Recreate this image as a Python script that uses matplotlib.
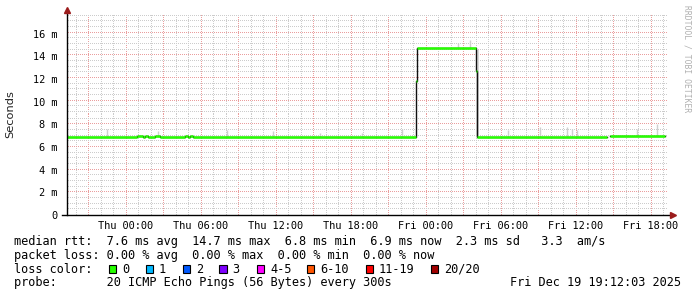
import numpy as np
import matplotlib
matplotlib.use('Agg')
import matplotlib.pyplot as plt
from matplotlib.patches import Rectangle

# time axis in hours relative to Thu 00:00
x_start, x_end = -4.7, 43.3
y_top = 17.65

tick_hours = [0, 6, 12, 18, 24, 30, 36, 42]
tick_labels = ['Thu 00:00', 'Thu 06:00', 'Thu 12:00', 'Thu 18:00',
               'Fri 00:00', 'Fri 06:00', 'Fri 12:00', 'Fri 18:00']
y_ticks = [0, 2, 4, 6, 8, 10, 12, 14, 16]
y_labels = ['0', '2 m', '4 m', '6 m', '8 m', '10 m', '12 m', '14 m', '16 m']

# median rtt (ms), step segments
med_start = [-4.7, 0.88, 1.4, 1.55, 1.8, 2.35, 2.75, 4.75, 5.0, 5.15, 5.4, 23.2, 23.3, 28.0, 28.1, 38.7]
med_end = [0.88, 1.4, 1.55, 1.8, 2.35, 2.75, 4.75, 5.0, 5.15, 5.4, 23.2, 23.3, 28.0, 28.1, 38.5, 43.1]
med_ms = [6.85, 6.97, 6.85, 6.97, 6.85, 6.97, 6.85, 6.97, 6.85, 6.97, 6.85, 11.8, 14.7, 12.7, 6.85, 6.97]

# smoke spikes (grey)
smoke_h = [-1.52, 2.56, 8.08, 11.78, 15.54, 18.88, 22.08, 26.58, 27.56,
           30.58, 33.14, 35.28, 35.68, 36.08, 40.88, 42.48]
smoke_lo = [6.85, 6.85, 6.85, 6.85, 6.85, 6.85, 6.85, 14.7, 14.7,
            6.85, 6.85, 6.85, 6.85, 6.85, 6.97, 6.97]
smoke_hi = [7.6, 7.4, 7.5, 7.4, 7.2, 7.2, 7.6, 15.2, 15.4,
            7.5, 7.8, 7.8, 7.6, 7.5, 7.6, 8.05]
band_h = [28.0, 28.25]
band_lo = 6.9
band_hi = 14.6

stats_rtt = "median rtt:  7.6 ms avg  14.7 ms max  6.8 ms min  6.9 ms now  2.3 ms sd   3.3  am/s"
stats_loss = "packet loss: 0.00 % avg  0.00 % max  0.00 % min  0.00 % now"
probe_text = "probe:       20 ICMP Echo Pings (56 Bytes) every 300s"
stamp_text = "Fri Dec 19 19:12:03 2025"
loss_labels = ['0', '1', '2', '3', '4-5', '6-10', '11-19', '20/20']
loss_colors = ['#26ff00', '#00b8ff', '#0059ff', '#7e00ff', '#ff00ff', '#ff5500', '#ff0000', '#a10000']
loss_box_px = [108.7, 145.7, 182.7, 219.3, 256.7, 306.7, 365.7, 431.0]

W, H = 697, 297
AX_L, AX_B, AX_W, AX_H = 67, 82, 600, 200
mono = 'DejaVu Sans Mono'

fig = plt.figure(figsize=(W / 100, H / 100), dpi=100)
fig.patch.set_facecolor('white')
ax = fig.add_axes([AX_L / W, AX_B / H, AX_W / W, AX_H / H])
ax.set_xlim(x_start, x_end)
ax.set_ylim(0, y_top)
for s in ax.spines.values():
    s.set_visible(False)

# dotted grid as a pixel image so the dots stay crisp
grey_rgba = (0.80, 0.80, 0.80, 1.0)
red_rgba = (0.92, 0.62, 0.62, 1.0)
grid = np.zeros((AX_H, AX_W, 4))
px_per_h = AX_W / (x_end - x_start)
px_per_ms = AX_H / y_top
minor_h = [h for h in range(-4, 44) if h % 3 != 0]
major_h = [h for h in range(-3, 44) if h % 3 == 0]
minor_ms = [i * 0.5 for i in range(1, 36) if i % 4 != 0]
major_ms = y_ticks[1:]
for vals, rgba in ((minor_h, grey_rgba), (major_h, red_rgba)):
    for h in vals:
        c = int(round((h - x_start) * px_per_h))
        if 0 <= c < AX_W:
            grid[0::2, c] = rgba
for vals, rgba in ((minor_ms, grey_rgba), (major_ms, red_rgba)):
    for v in vals:
        r = int(round(v * px_per_ms))
        if 0 <= r < AX_H:
            grid[r, 1::2] = rgba
ax.imshow(grid, extent=(x_start, x_end, 0, y_top), origin='lower',
          interpolation='nearest', aspect='auto', zorder=1)
ax.set_xlim(x_start, x_end)
ax.set_ylim(0, y_top)

# smoke
ax.vlines(smoke_h, smoke_lo, smoke_hi, colors='#cfcfcf', linewidth=1.0, zorder=2)
ax.fill_between(band_h, band_lo, band_hi, color='#d8d8d8', linewidth=0, zorder=2)

# median: black step underneath, green horizontal segments on top
step_x, step_y = [], []
for s, e, v in zip(med_start, med_end, med_ms):
    if step_x and s > step_x[-1] + 0.01:
        step_x.append(step_x[-1]); step_y.append(float('nan'))
    step_x += [s, e]
    step_y += [v, v]
ax.plot(step_x, step_y, color='#111111', linewidth=1.0, zorder=3)
ax.hlines(med_ms, med_start, med_end, colors=loss_colors[0], linewidth=1.8, zorder=4)

# axes lines and arrows
arrow_c = '#9b1c1c'
ax.plot([-5 / 600, 1.006], [0, 0], color='black', linewidth=1, transform=ax.transAxes, clip_on=False, zorder=5)
ax.plot([0, 0], [0, 1.01], color='black', linewidth=1, transform=ax.transAxes, clip_on=False, zorder=5)
ax.plot([1.01], [0], marker='>', color=arrow_c, markersize=4.5, transform=ax.transAxes, clip_on=False, zorder=6)
ax.plot([0], [1.023], marker='^', color=arrow_c, markersize=4.5, transform=ax.transAxes, clip_on=False, zorder=6)

ax.set_xticks(tick_hours)
ax.set_xticklabels(tick_labels, fontfamily=mono, fontsize=7.4)
ax.set_yticks(y_ticks)
ax.set_yticklabels(y_labels, fontfamily=mono, fontsize=7.4)
ax.tick_params(axis='x', length=0, pad=4)
ax.tick_params(axis='y', length=0, pad=7)

fig.text(10 / W, 1 - 114 / H, 'Seconds', rotation=90, ha='center', va='center',
         fontsize=8.2, family='DejaVu Sans', color='#222222')
fig.text(687 / W, 1 - 5 / H, 'RRDTOOL / TOBI OETIKER', rotation=270, ha='center', va='top',
         fontsize=5.8, family=mono, color='#b0b0b0')

# legend area
fs = 8.6
def fx(px):
    return px / W

def fy(py):
    return 1 - py / H

fig.text(fx(14.2), fy(245.3), stats_rtt, family=mono, fontsize=fs, va='baseline')
fig.text(fx(14.2), fy(258.7), stats_loss, family=mono, fontsize=fs, va='baseline')
fig.text(fx(14.2), fy(272.7), 'loss color:', family=mono, fontsize=fs, va='baseline')
for px, lab, col in zip(loss_box_px, loss_labels, loss_colors):
    fig.patches.append(Rectangle((fx(px), fy(272.7)), 7.3 / W, 8 / H, transform=fig.transFigure,
                                 facecolor=col, edgecolor='black', linewidth=0.8))
    fig.text(fx(px + 13.3), fy(272.7), lab, family=mono, fontsize=fs, va='baseline')
fig.text(fx(14.2), fy(286.3), probe_text, family=mono, fontsize=fs, va='baseline')
fig.text(fx(681), fy(286.3), stamp_text, family=mono, fontsize=fs, va='baseline', ha='right')

fig.savefig('out.png', dpi=100, facecolor='white')
